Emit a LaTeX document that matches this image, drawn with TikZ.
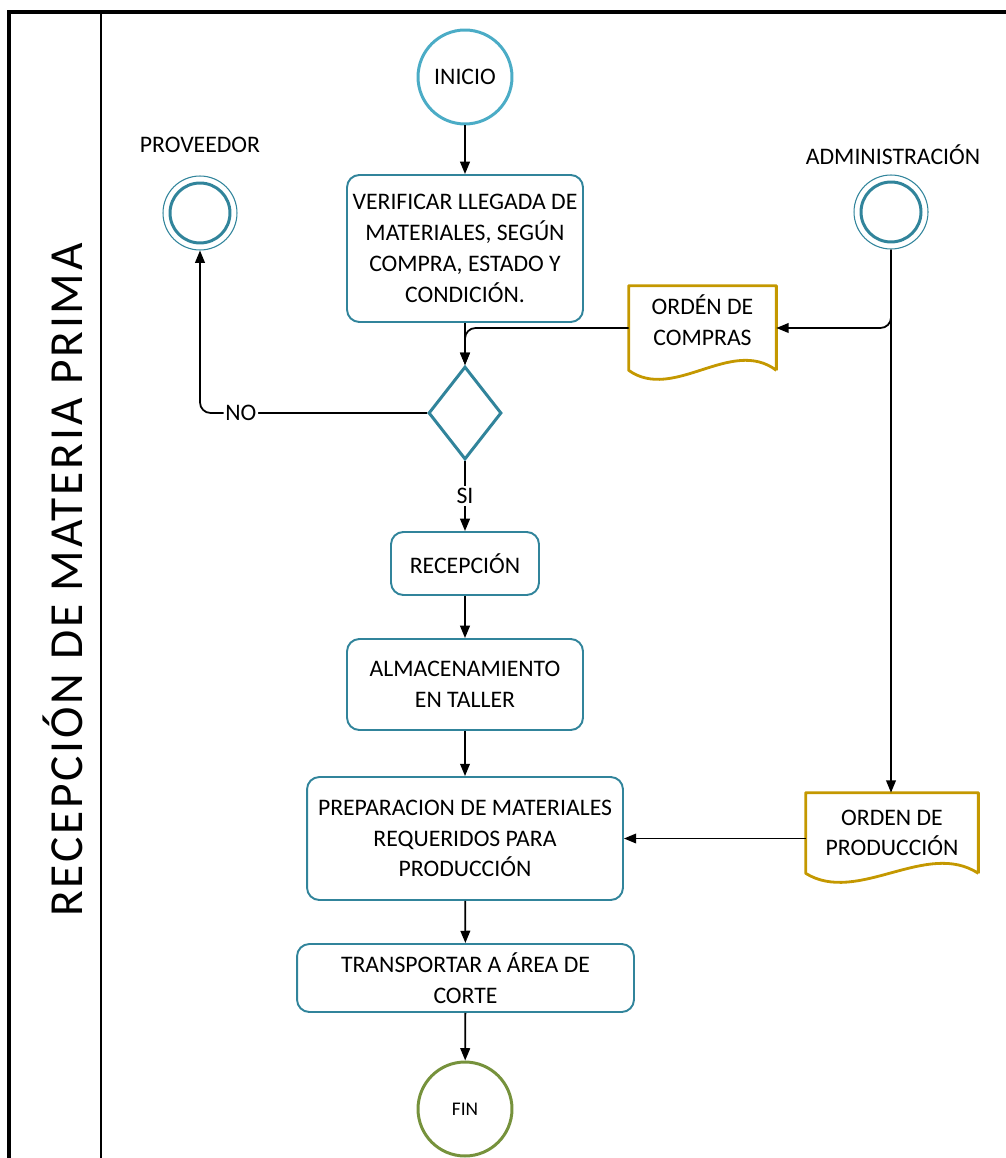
\documentclass[tikz,border=0pt]{standalone}
\usepackage{fontspec}
\setmainfont{Carlito}
\usetikzlibrary{arrows.meta,shapes.geometric}
\definecolor{azul}{RGB}{75,172,198}
\definecolor{petroleo}{RGB}{49,132,155}
\definecolor{dorado}{RGB}{196,152,0}
\definecolor{oliva}{RGB}{118,146,60}

\tikzset{
  texto/.style={font=\fontsize{13.5}{17.5}\selectfont, align=center},
  proceso/.style={texto, draw=petroleo, line width=1.1pt, rounded corners=7pt, inner sep=1pt},
  documento/.style={texto, inner sep=0pt},
  extremo/.style={texto, circle, line width=1.7pt, inner sep=0pt, minimum size=1.88cm},
  actor/.style={circle, draw=petroleo, line width=0.6pt, minimum size=1.48cm, inner sep=0pt},
  flecha/.style={-{Triangle[length=7pt,width=5.5pt]}, line width=1pt},
}

\begin{document}
\begin{tikzpicture}[x=0.02cm, y=-0.02cm]
\useasboundingbox (0,0) rectangle (1006,1158);

% marco del carril
\draw [line width=1.8pt] (9,1170) -- (9,12) -- (1020,12);
\draw [line width=1.2pt] (101,12) -- (101,1170);
\node (titulo) [rotate=90, font=\fontsize{27}{30}\selectfont\addfontfeature{LetterSpace=6}] at (63,580) {RECEPCIÓN DE MATERIA PRIMA};

% nodos
\node (inicio) [extremo, draw=azul] at (465,77) {INICIO};
\node (verif) [proceso, minimum width=4.72cm, minimum height=2.94cm] at (465,248.5)
  {VERIFICAR LLEGADA DE\\MATERIALES, SEGÚN\\COMPRA, ESTADO Y\\CONDICIÓN.};
\node (dec) [diamond, draw=petroleo, line width=1.7pt, inner sep=0pt, minimum width=1.46cm, minimum height=1.86cm] at (465,413) {};
\node (recep) [proceso, minimum width=2.96cm, minimum height=1.26cm] at (465,563.5) {RECEPCIÓN};
\node (almac) [proceso, minimum width=4.72cm, minimum height=1.82cm] at (465,684.5) {ALMACENAMIENTO\\EN TALLER};
\node (prep) [proceso, minimum width=6.32cm, minimum height=2.46cm] at (465,838.5)
  {PREPARACION DE MATERIALES\\REQUERIDOS PARA\\PRODUCCIÓN};
\node (trans) [proceso, minimum width=6.74cm, minimum height=1.36cm] at (465.5,978) {TRANSPORTAR A ÁREA DE\\CORTE};
\node (fin) [extremo, draw=oliva, font=\fontsize{11}{13}\selectfont] at (465,1109) {FIN};

% actores
\node (provlbl) [texto] at (200,145) {PROVEEDOR};
\node (prov) [actor] at (200,213) {};
\draw [petroleo, line width=1.7pt] (prov) circle (0.6cm);
\node (adminlbl) [texto] at (893,155) {ADMINISTRACIÓN};
\node (admin) [actor] at (891,212) {};
\draw [petroleo, line width=1.7pt] (admin) circle (0.6cm);

% documentos
\node (compras) [documento, minimum width=2.94cm, minimum height=1.68cm, text depth=9pt] at (702.5,328) {ORDÉN DE\\COMPRAS};
\draw [dorado, line width=1.6pt, line join=round] (compras.south east) -- (compras.north east) -- (compras.north west) -- (compras.south west)
  .. controls +(45,32) and +(-45,-34) .. (compras.south east);
\node (prod) [documento, minimum width=3.44cm, minimum height=1.6cm] at (892,833) {ORDEN DE\\PRODUCCIÓN};
\draw [dorado, line width=1.6pt, line join=round] (prod.south east) -- (prod.north east) -- (prod.north west) -- (prod.south west)
  .. controls +(52,32) and +(-52,-34) .. (prod.south east);

% conectores
\draw [flecha] (inicio) -- (verif);
\draw [flecha] (verif) -- (dec);
\draw [flecha, rounded corners=6pt] (compras.west) -| (dec.north);
\draw [flecha, rounded corners=6pt] (dec.west) -| node [pos=0.41, fill=white, inner sep=1pt, texto] {NO} (prov.south);
\draw [flecha] (dec.south) -- node [fill=white, inner sep=1pt, texto] {SI} (recep.north);
\draw [flecha] (recep) -- (almac);
\draw [flecha] (almac) -- (prep);
\draw [flecha] (prep) -- (trans);
\draw [flecha] (trans) -- (fin);
\draw [flecha, rounded corners=6pt] (admin.south) |- (compras.east);
\draw [flecha] (admin.south) -- (admin.south |- prod.north);
\draw [flecha] (prod.west |- prep.east) -- (prep.east);

\end{tikzpicture}
\end{document}
